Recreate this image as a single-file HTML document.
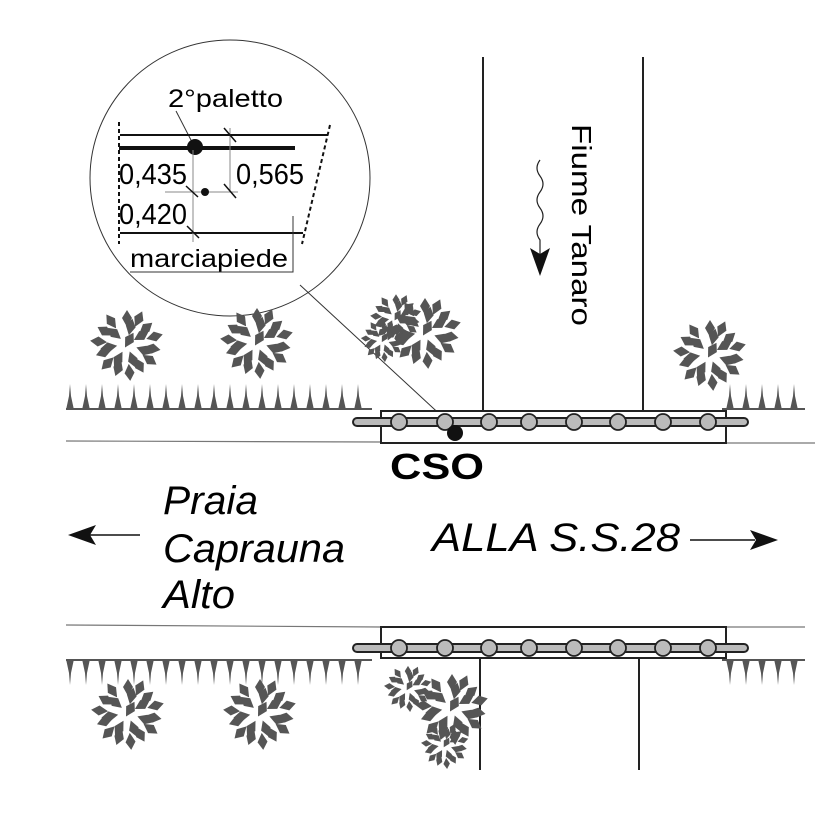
<!DOCTYPE html>
<html><head><meta charset="utf-8"><style>html,body{margin:0;padding:0;background:#fff}svg{display:block}</style></head><body>
<svg width="826" height="826" viewBox="0 0 826 826" xmlns="http://www.w3.org/2000/svg" font-family="Liberation Sans, sans-serif">
<defs>
<g id="leaf"><path d="M0,-8 L5,0 L0,9 L-5,0 Z" fill="#555"/></g>
<g id="bush">
<use href="#leaf" transform="rotate(0) translate(0,-26)"/><use href="#leaf" transform="rotate(25) translate(0,-28)"/>
<use href="#leaf" transform="rotate(50) translate(0,-25)"/><use href="#leaf" transform="rotate(75) translate(0,-29)"/>
<use href="#leaf" transform="rotate(100) translate(0,-26)"/><use href="#leaf" transform="rotate(125) translate(0,-28)"/>
<use href="#leaf" transform="rotate(150) translate(0,-25)"/><use href="#leaf" transform="rotate(175) translate(0,-29)"/>
<use href="#leaf" transform="rotate(200) translate(0,-26)"/><use href="#leaf" transform="rotate(225) translate(0,-28)"/>
<use href="#leaf" transform="rotate(250) translate(0,-25)"/><use href="#leaf" transform="rotate(275) translate(0,-29)"/>
<use href="#leaf" transform="rotate(300) translate(0,-26)"/><use href="#leaf" transform="rotate(325) translate(0,-28)"/>
<use href="#leaf" transform="rotate(12) translate(0,-18)"/><use href="#leaf" transform="rotate(60) translate(0,-17)"/>
<use href="#leaf" transform="rotate(110) translate(0,-19)"/><use href="#leaf" transform="rotate(160) translate(0,-17)"/>
<use href="#leaf" transform="rotate(210) translate(0,-18)"/><use href="#leaf" transform="rotate(260) translate(0,-19)"/>
<use href="#leaf" transform="rotate(310) translate(0,-17)"/><use href="#leaf" transform="rotate(30) translate(0,-5)"/>
</g>
<g id="spike"><path d="M-4,0 L-1,-14 L0,-26 L1,-14 L4,0 Z" fill="#555"/></g>
<g id="spikeD"><path d="M-4,0 L-1,14 L0,26 L1,14 L4,0 Z" fill="#555"/></g>
</defs>

<ellipse cx="230" cy="178" rx="140" ry="138" fill="none" stroke="#333" stroke-width="1"/>
<text x="168" y="107" font-size="25" textLength="115" lengthAdjust="spacingAndGlyphs">2°paletto</text>
<line x1="176" y1="111" x2="192" y2="142" stroke="#333" stroke-width="1"/>
<line x1="120" y1="135" x2="328" y2="135" stroke="#111" stroke-width="2"/>
<line x1="119" y1="148" x2="295" y2="148" stroke="#111" stroke-width="4"/>
<ellipse cx="195" cy="147" rx="8" ry="8" fill="#111"/>
<line x1="119" y1="122" x2="119" y2="244" stroke="#111" stroke-width="2" stroke-dasharray="4,3"/>
<line x1="330" y1="125" x2="302" y2="244" stroke="#111" stroke-width="2" stroke-dasharray="4,3"/>
<line x1="120" y1="233" x2="303" y2="233" stroke="#111" stroke-width="2"/>
<line x1="193" y1="150" x2="193" y2="242" stroke="#888" stroke-width="1"/>
<line x1="230" y1="128" x2="230" y2="192" stroke="#888" stroke-width="1"/>
<line x1="165" y1="192" x2="238" y2="192" stroke="#888" stroke-width="1"/>
<circle cx="205" cy="192" r="4" fill="#111"/>
<line x1="224" y1="128" x2="236" y2="142" stroke="#111" stroke-width="1.5"/>
<line x1="186" y1="186" x2="198" y2="197" stroke="#111" stroke-width="1.5"/>
<line x1="224" y1="184" x2="236" y2="198" stroke="#111" stroke-width="1.5"/>
<line x1="187" y1="226" x2="199" y2="238" stroke="#111" stroke-width="1.5"/>
<text x="119" y="184" font-size="29" textLength="68" lengthAdjust="spacingAndGlyphs">0,435</text>
<text x="236" y="184" font-size="29" textLength="68" lengthAdjust="spacingAndGlyphs">0,565</text>
<text x="119" y="224" font-size="29" textLength="68" lengthAdjust="spacingAndGlyphs">0,420</text>
<text x="130" y="267" font-size="25" textLength="158" lengthAdjust="spacingAndGlyphs">marciapiede</text>
<polyline points="130,272 293,272 293,216" fill="none" stroke="#333" stroke-width="1"/>
<line x1="300" y1="285" x2="446" y2="420" stroke="#333" stroke-width="1"/>

<line x1="483" y1="57" x2="483" y2="412" stroke="#222" stroke-width="2"/>
<line x1="643" y1="57" x2="643" y2="410" stroke="#222" stroke-width="2"/>
<line x1="480" y1="658" x2="480" y2="770" stroke="#222" stroke-width="2"/>
<line x1="639" y1="658" x2="639" y2="770" stroke="#222" stroke-width="2"/>
<text transform="translate(572,124) rotate(90)" font-size="28" textLength="202" lengthAdjust="spacingAndGlyphs">Fiume Tanaro</text>
<path d="M540,160 q-6,8 0,16 q6,8 0,16 q-6,8 0,16 q6,8 0,16 q-6,8 0,16 L540,260" fill="none" stroke="#222" stroke-width="1.2"/>
<path d="M530,248 L540,276 L550,248 L540,254 Z" fill="#111"/>

<line x1="66" y1="441" x2="381" y2="442" stroke="#777" stroke-width="1.2"/>
<line x1="726" y1="443" x2="815" y2="443" stroke="#777" stroke-width="1.2"/>
<line x1="66" y1="625" x2="381" y2="627" stroke="#777" stroke-width="1.2"/>
<line x1="726" y1="627" x2="805" y2="627" stroke="#777" stroke-width="1.2"/>

<rect x="381" y="411" width="345" height="32" fill="#fff" stroke="#222" stroke-width="2"/>
<line x1="357" y1="422" x2="744" y2="422" stroke="#222" stroke-width="10" stroke-linecap="round"/>
<line x1="357" y1="422" x2="744" y2="422" stroke="#bbb" stroke-width="6" stroke-linecap="round"/>
<g fill="#bbb" stroke="#222" stroke-width="1.8">
<circle cx="399" cy="422" r="8"/><circle cx="445" cy="422" r="8"/><circle cx="489" cy="422" r="8"/><circle cx="529" cy="422" r="8"/>
<circle cx="574" cy="422" r="8"/><circle cx="618" cy="422" r="8"/><circle cx="663" cy="422" r="8"/><circle cx="708" cy="422" r="8"/>
</g>
<rect x="381" y="627" width="345" height="31" fill="#fff" stroke="#222" stroke-width="2"/>
<line x1="357" y1="648" x2="744" y2="648" stroke="#222" stroke-width="10" stroke-linecap="round"/>
<line x1="357" y1="648" x2="744" y2="648" stroke="#bbb" stroke-width="6" stroke-linecap="round"/>
<g fill="#bbb" stroke="#222" stroke-width="1.8">
<circle cx="399" cy="648" r="8"/><circle cx="445" cy="648" r="8"/><circle cx="489" cy="648" r="8"/><circle cx="529" cy="648" r="8"/>
<circle cx="574" cy="648" r="8"/><circle cx="618" cy="648" r="8"/><circle cx="663" cy="648" r="8"/><circle cx="708" cy="648" r="8"/>
</g>
<circle cx="455" cy="433" r="8" fill="#111"/>
<text x="390" y="479" font-size="36" font-weight="bold" textLength="94" lengthAdjust="spacingAndGlyphs">CSO</text>

<g>
<use href="#spike" x="70" y="410"/><use href="#spike" x="86" y="410"/><use href="#spike" x="102" y="410"/><use href="#spike" x="118" y="410"/><use href="#spike" x="134" y="410"/><use href="#spike" x="150" y="410"/><use href="#spike" x="166" y="410"/><use href="#spike" x="182" y="410"/><use href="#spike" x="198" y="410"/><use href="#spike" x="214" y="410"/><use href="#spike" x="230" y="410"/><use href="#spike" x="246" y="410"/><use href="#spike" x="262" y="410"/><use href="#spike" x="278" y="410"/><use href="#spike" x="294" y="410"/><use href="#spike" x="310" y="410"/><use href="#spike" x="326" y="410"/><use href="#spike" x="342" y="410"/><use href="#spike" x="358" y="410"/>
<use href="#spike" x="730" y="410"/><use href="#spike" x="746" y="410"/><use href="#spike" x="762" y="410"/><use href="#spike" x="778" y="410"/><use href="#spike" x="794" y="410"/>
</g>
<line x1="66" y1="409" x2="372" y2="409" stroke="#555" stroke-width="2"/>
<line x1="722" y1="409" x2="805" y2="409" stroke="#555" stroke-width="2"/>
<g>
<use href="#spikeD" x="70" y="659"/><use href="#spikeD" x="86" y="659"/><use href="#spikeD" x="102" y="659"/><use href="#spikeD" x="118" y="659"/><use href="#spikeD" x="134" y="659"/><use href="#spikeD" x="150" y="659"/><use href="#spikeD" x="166" y="659"/><use href="#spikeD" x="182" y="659"/><use href="#spikeD" x="198" y="659"/><use href="#spikeD" x="214" y="659"/><use href="#spikeD" x="230" y="659"/><use href="#spikeD" x="246" y="659"/><use href="#spikeD" x="262" y="659"/><use href="#spikeD" x="278" y="659"/><use href="#spikeD" x="294" y="659"/><use href="#spikeD" x="310" y="659"/><use href="#spikeD" x="326" y="659"/><use href="#spikeD" x="342" y="659"/><use href="#spikeD" x="358" y="659"/>
<use href="#spikeD" x="730" y="659"/><use href="#spikeD" x="746" y="659"/><use href="#spikeD" x="762" y="659"/><use href="#spikeD" x="778" y="659"/><use href="#spikeD" x="794" y="659"/>
</g>
<line x1="66" y1="660" x2="372" y2="660" stroke="#555" stroke-width="2"/>
<line x1="722" y1="660" x2="805" y2="660" stroke="#555" stroke-width="2"/>

<use href="#bush" transform="translate(127,344)"/>
<use href="#bush" transform="translate(257,342)"/>
<use href="#bush" transform="translate(396,318) scale(0.7)"/>
<use href="#bush" transform="translate(383,340) scale(0.6)"/>
<use href="#bush" transform="translate(425,332)"/>
<use href="#bush" transform="translate(710,354)"/>
<use href="#bush" transform="translate(128,713)"/>
<use href="#bush" transform="translate(260,713)"/>
<use href="#bush" transform="translate(408,688) scale(0.65)"/>
<use href="#bush" transform="translate(452,708)"/>
<use href="#bush" transform="translate(445,745) scale(0.65)"/>

<g font-style="italic" font-size="40">
<text x="163" y="514" textLength="95" lengthAdjust="spacingAndGlyphs">Praia</text>
<text x="163" y="562" textLength="182" lengthAdjust="spacingAndGlyphs">Capraunа</text>
<text x="163" y="608" textLength="72" lengthAdjust="spacingAndGlyphs">Alto</text>
<text x="432" y="551" textLength="248" lengthAdjust="spacingAndGlyphs">ALLA S.S.28</text>
</g>
<line x1="90" y1="535" x2="140" y2="535" stroke="#111" stroke-width="1.5"/>
<path d="M68,535 L96,525 L90,535 L96,545 Z" fill="#111"/>
<line x1="690" y1="540" x2="755" y2="540" stroke="#111" stroke-width="1.5"/>
<path d="M778,540 L750,530 L756,540 L750,550 Z" fill="#111"/>
</svg>
</body></html>
